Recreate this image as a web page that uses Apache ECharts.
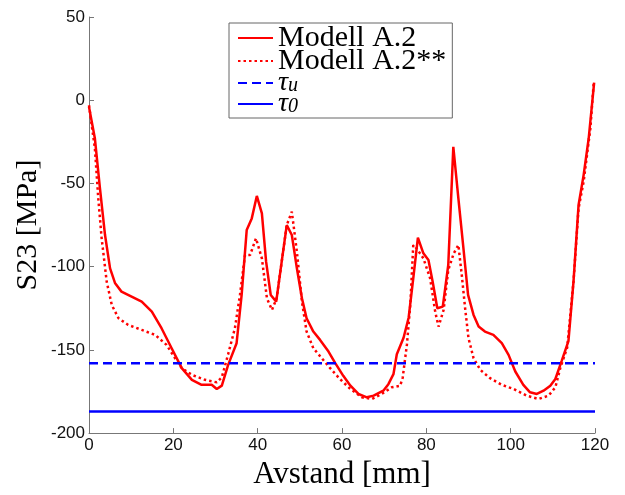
<!DOCTYPE html>
<html><head><meta charset="utf-8">
<script src="https://cdn.jsdelivr.net/npm/echarts@6/dist/echarts.min.js"></script>
<style>html,body{margin:0;padding:0;background:#fff}#c{width:625px;height:495px}</style>
</head><body><div id="c"></div>
<script>
// Modell A.2 (solid)
const solidX = [0, 1.4, 2.6, 3.8, 5, 6.2, 7.7, 10.1, 12.5, 14.9, 17.2, 19.6, 22, 24.4, 26.7, 29.1, 30.3, 31.5, 33, 35, 36.2, 37.4, 38.6, 39.8, 41, 42, 43.1, 44.4, 45.7, 46.9, 48.1, 49.3, 50.5, 51.6, 53.2, 54.8, 56.8, 58.4, 60.3, 62, 63.9, 65.9, 67.5, 69.8, 71, 72.2, 73, 74.6, 75.8, 76.9, 78, 79.3, 80.5, 81.5, 82.6, 83.9, 85.2, 86.4, 87.6, 88.8, 89.9, 91.2, 92.4, 93.9, 95.9, 97.9, 99.5, 101.1, 103, 104.6, 106.2, 107.8, 109.4, 110.6, 112.1, 113.7, 114.9, 116.1, 117.3, 118.5, 119.8];
const solidY = [-4, -23, -53, -81, -101, -110, -115, -118, -121, -127, -137, -149, -161, -168, -171, -171, -173.5, -171.5, -159, -146, -117, -78, -71, -57.5, -68, -97, -117, -121, -97, -75, -81, -101, -119, -131, -139, -144, -151, -158, -165.6, -171.5, -176.5, -178.5, -177.5, -174.5, -170.6, -164.6, -152.6, -142.7, -130.7, -107, -82.6, -92, -96, -109, -125, -124, -99, -28, -59, -89, -117, -129, -136, -139, -141, -146, -153, -163, -171, -175.5, -176.5, -174.5, -171.5, -167.5, -156.6, -144.7, -109, -63, -45, -23, 10.6];
// Modell A.2** (dotted)
const dotX = [0, 1.4, 2.2, 3, 4.2, 5.4, 7, 9.3, 12.5, 15.7, 18.4, 20.4, 22, 24.4, 27.5, 30.3, 31.5, 33, 34.6, 35.8, 37, 38.2, 39.6, 41, 42.2, 43.4, 44.5, 45.7, 46.9, 48.1, 49.3, 50.5, 51.6, 53.2, 55.2, 57.2, 59.5, 62, 64.7, 67.1, 69.4, 71.8, 73.8, 74.4, 75.4, 76.2, 76.9, 77.7, 79.3, 80.9, 82.1, 82.9, 84.1, 85.2, 86.5, 87.6, 88.4, 89.2, 90, 91.2, 92.8, 95.1, 97.9, 100.7, 103.8, 106.6, 109, 110.6, 111.8, 113.4, 114.9, 116.1, 117.3, 118.9, 119.7];
const dotY = [-3, -29, -59, -83, -109, -123, -131, -135, -138, -141, -147, -155, -161, -165, -168, -169.5, -166.5, -152.6, -137, -117, -93, -93, -83, -95, -119, -126, -119, -97, -75, -67, -91, -121, -139, -149, -155, -161, -167.5, -173.5, -178.5, -179.5, -176.5, -172.5, -171.5, -166.6, -146.7, -122.8, -87, -89, -95, -107, -127, -136, -126, -102, -92, -87, -105, -125, -143, -155, -162, -167, -171, -173.5, -177.5, -179.5, -177.5, -172.5, -160.6, -148.7, -109, -65, -49, -17, 10.6];
const tauU = -158;
const tau0 = -187;
const xRange = [0, 120];
const xTicks = [0, 20, 40, 60, 80, 100, 120];
const yTicks = [-200, -150, -100, -50, 0, 50];

const zip = (a, b) => a.map((v, i) => [v, b[i]]);
const chart = echarts.init(document.getElementById('c'));
const serif = '"Liberation Serif", "DejaVu Serif", serif';
const sans = '"Liberation Sans", Arial, sans-serif';
chart.setOption({
  animation: false,
  grid: {left: 89, right: 30, top: 17, bottom: 59},
  xAxis: {
    type: 'value', min: xTicks[0], max: xTicks[xTicks.length-1], interval: 20,
    name: 'Avstand [mm]', nameLocation: 'middle', nameGap: 25,
    nameTextStyle: {fontFamily: serif, fontSize: 31, color: '#000'},
    axisLine: {onZero: false, lineStyle: {color: '#777', width: 1}},
    axisTick: {inside: true, length: 5, lineStyle: {color: '#777'}},
    axisLabel: {fontFamily: sans, fontSize: 17, color: '#111', margin: 4},
    splitLine: {show: false}
  },
  yAxis: {
    type: 'value', min: yTicks[0], max: yTicks[yTicks.length-1], interval: 50,
    name: 'S23 [MPa]', nameLocation: 'middle', nameGap: 46, nameMoveOverlap: false,
    nameTextStyle: {fontFamily: serif, fontSize: 30, color: '#000'},
    axisLine: {show: true, onZero: false, lineStyle: {color: '#777', width: 1}},
    axisTick: {show: true, inside: true, length: 5, lineStyle: {color: '#777'}},
    axisLabel: {fontFamily: sans, fontSize: 17, color: '#111', margin: 4},
    splitLine: {show: false}
  },
  legend: {
    orient: 'vertical', left: 229, top: 23, itemWidth: 35, itemHeight: 14, itemGap: -7,
    padding: [0, 6, 0, 8],
    borderColor: '#666', borderWidth: 1, backgroundColor: '#fff',
    itemStyle: {opacity: 0},
    data: ['Modell A.2', 'Modell A.2**', 'tu', 't0'],
    formatter: n => n === 'tu' ? '{t|τ}{s|u}' : (n === 't0' ? '{t|τ}{s|0}' : n),
    textStyle: {fontFamily: serif, fontSize: 30, color: '#000',
      rich: {t: {fontFamily: serif, fontSize: 28, lineHeight: 26, fontStyle: 'italic', color: '#000'},
             s: {fontFamily: serif, fontSize: 20, lineHeight: 20, fontStyle: 'italic', color: '#000', padding: [6,0,0,0]}}}
  },
  series: [
    {name: 'Modell A.2', type: 'line', symbol: 'none', data: zip(solidX, solidY), lineStyle: {color: '#ff0000', width: 2.5}, itemStyle: {color: '#ff0000'}, z: 3},
    {name: 'Modell A.2**', type: 'line', symbol: 'none', data: zip(dotX, dotY), lineStyle: {color: '#ff0000', width: 2.5, type: [2.5, 3]}, itemStyle: {color: '#ff0000'}, z: 3},
    {name: 'tu', type: 'line', symbol: 'none', data: zip(xRange, [tauU, tauU]), lineStyle: {color: '#0000ff', width: 2.5, type: [9, 5]}, itemStyle: {color: '#0000ff'}},
    {name: 't0', type: 'line', symbol: 'none', data: zip(xRange, [tau0, tau0]), lineStyle: {color: '#0000ff', width: 2.5}, itemStyle: {color: '#0000ff'}}
  ]
});
</script></body></html>
